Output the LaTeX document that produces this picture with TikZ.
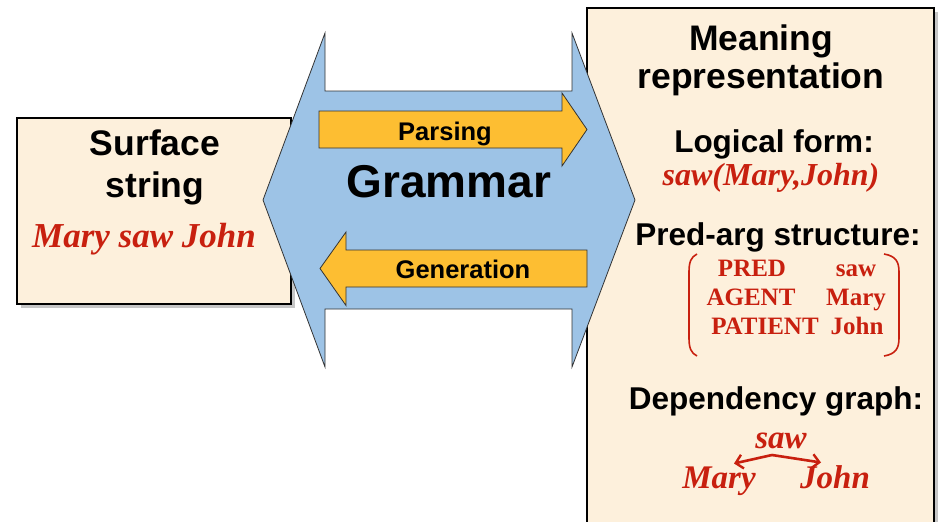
\documentclass[tikz,border=0pt]{standalone}
\usepackage{fontspec}
\setmainfont{Liberation Serif}
\setsansfont{Liberation Sans}
\usetikzlibrary{arrows.meta}
\definecolor{cream}{RGB}{253,240,220}
\definecolor{gblue}{RGB}{157,195,230}
\definecolor{gorange}{RGB}{253,190,50}
\definecolor{gred}{RGB}{200,32,15}
\newcommand{\fsz}[1]{\fontsize{#1}{#1}\selectfont}
\begin{document}
\begin{tikzpicture}[x=1pt,y=-1pt,
  box/.style={draw=black,line width=2.5pt,fill=cream},
  shadowbox/.style={fill=black!50,opacity=0.45},
  head/.style={font=\sffamily\bfseries\fsz{35.5},anchor=base,inner sep=0pt},
  sub/.style={font=\sffamily\bfseries\fsz{31.5},anchor=base,inner sep=0pt},
  lab/.style={font=\sffamily\bfseries\fsz{25.5},anchor=base,inner sep=0pt},
  redit/.style={font=\rmfamily\bfseries\itshape\fsz{35},text=gred,anchor=base,inner sep=0pt},
  redsm/.style={font=\rmfamily\bfseries\itshape\fsz{33},text=gred,anchor=base,inner sep=0pt},
  redrm/.style={font=\rmfamily\bfseries\fsz{25},text=gred,anchor=base,inner sep=0pt},
  bigarrow/.style={fill=gblue,draw=black!80,line width=0.8pt,line join=miter},
  oarrow/.style={fill=gorange,draw=black!80,line width=0.8pt,line join=miter},
  dep/.style={draw=gred,line width=2.6pt,-{Straight Barb[length=7pt,width=14pt,line width=2.4pt]}},
  paren/.style={draw=gred,line width=1.6pt}]
\useasboundingbox (0,0) rectangle (943,522);
\clip (0,0) rectangle (943,522);
% shadows
\fill[shadowbox] (21,122) rectangle (295,308);
\fill[shadowbox] (591,12) rectangle (938,540);
% boxes
\draw[box] (17,118) rectangle (291,304);
\draw[box] (587,8) rectangle (934,540);
% grammar double arrow
\draw[bigarrow] (263,200) -- (325,33) -- (325,91) -- (572,91) -- (572,33) -- (635,200)
  -- (572,367) -- (572,309) -- (325,309) -- (325,367) -- cycle;
% parsing / generation arrows
\draw[oarrow] (319,111) -- (562,111) -- (562,93) -- (587,129.5) -- (562,166) -- (562,148) -- (319,148) -- cycle;
\draw[oarrow] (320,268.5) -- (346,232) -- (346,250) -- (587,250) -- (587,287) -- (346,287) -- (346,305.5) -- cycle;
% left box text
\node[head] (surf1) at (155,155) {Surface};
\node[head] (surf2) at (155,197) {string};
\node[redit] (mjs) at (144,247) {Mary saw John};
% middle text
\node[font=\sffamily\bfseries\fsz{46},anchor=base,inner sep=0pt] (gram) at (449,197) {Grammar};
\node[lab] (pars) at (445,140) {Parsing};
\node[lab] (gen) at (463,278) {Generation};
% right box text
\node[head] (mean1) at (761,50) {Meaning};
\node[head] (mean2) at (761,88) {representation};
\node[sub] (lf) at (774,152) {Logical form:};
\node[redit,font=\rmfamily\bfseries\itshape\fsz{32}] (lfv) at (771,185) {saw(Mary,John)};
\node[sub] (pa) at (778,245) {Pred-arg structure:};
\node[redrm] (p1) at (752,276) {PRED};
\node[redrm] (p2) at (751,305) {AGENT};
\node[redrm] (p3) at (765,334) {PATIENT};
\node[redrm] (v1) at (856,276) {saw};
\node[redrm] (v2) at (856,305) {Mary};
\node[redrm] (v3) at (857,334) {John};
\draw[paren] (697,254) .. controls (691,257) and (689,262) .. (689,272) -- (689,338)
  .. controls (689,348) and (691,353) .. (697,356);
\draw[paren] (884,254) .. controls (896,256) and (899,262) .. (899,272) -- (899,338)
  .. controls (899,348) and (896,354) .. (884,356);
\node[sub] (dg) at (776,409) {Dependency graph:};
\node[redsm] (dsaw) at (781,448) {saw};
\node[redsm] (dmary) at (719,488) {Mary};
\node[redsm] (djohn) at (835,488) {John};
\coordinate (fork) at (772,455);
\coordinate (mtop) at (734,463.5);
\coordinate (jtop) at (821,462.5);
\draw[dep] (fork) -- (mtop);
\draw[dep] (fork) -- (jtop);
\end{tikzpicture}
\end{document}
